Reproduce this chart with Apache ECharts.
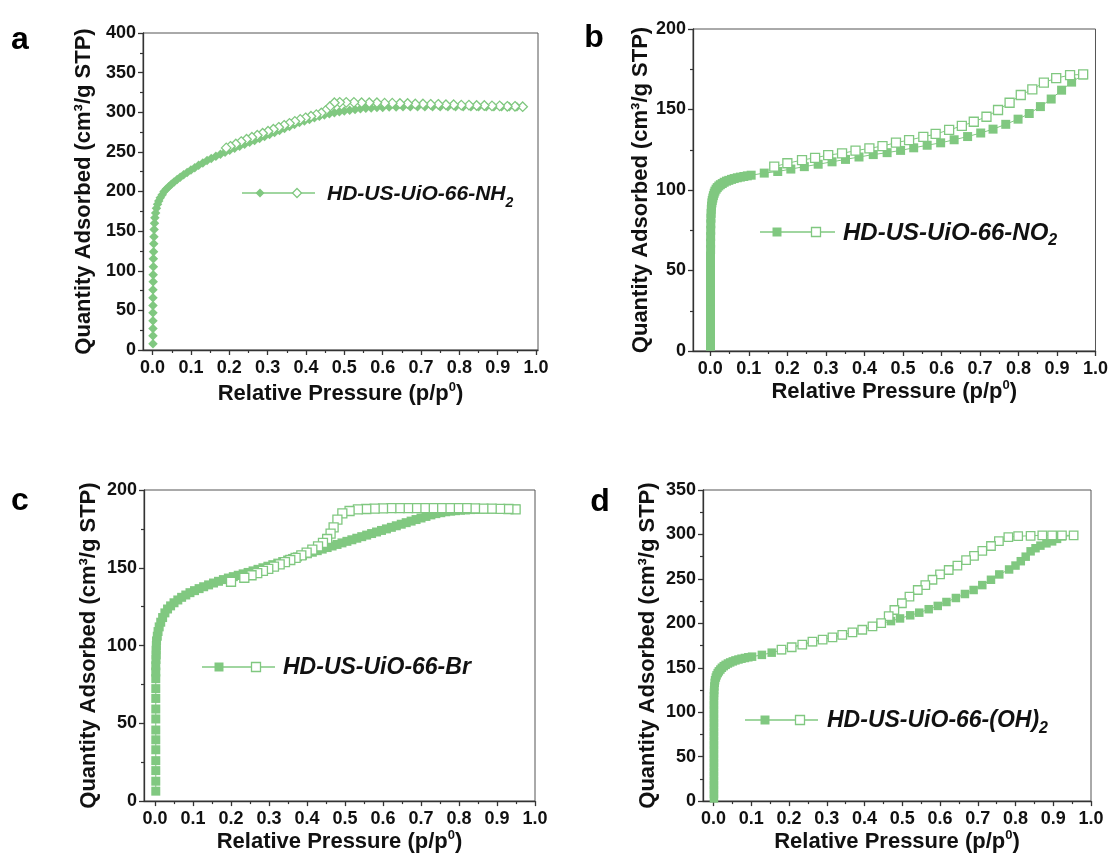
<!DOCTYPE html>
<html><head><meta charset="utf-8">
<script src="https://cdn.jsdelivr.net/npm/echarts@6/dist/echarts.min.js"></script>
<style>html,body{margin:0;padding:0;background:#fff}#c{width:1111px;height:854px}</style>
</head><body><div id="c"></div>
<script>
// ---------- data ----------
const xTicks = [0, 0.1, 0.2, 0.3, 0.4, 0.5, 0.6, 0.7, 0.8, 0.9, 1.0];
const xMinorTicks = [0.05, 0.15, 0.25, 0.35, 0.45, 0.55, 0.65, 0.75, 0.85, 0.95];
const yMax = [400, 200, 200, 350];
const yStep = [50, 50, 50, 50];
const panelLetters = ['a', 'b', 'c', 'd'];
const sampleNames = ['HD-US-UiO-66-NH', 'HD-US-UiO-66-NO', 'HD-US-UiO-66-Br', 'HD-US-UiO-66-(OH)'];
const sampleSubs = ['2', '2', '', '2'];

// (a) NH2 adsorption / desorption  [p/p0, cm3/g]
const nh2Ads = [[0.001,8],[0.001,18],[0.001,27],[0.001,37],[0.001,47],[0.001,56],[0.001,66],[0.001,76],[0.0015,86],[0.0015,95],[0.002,105],[0.002,115],[0.0025,124],[0.003,134],[0.0035,143],[0.004,152],[0.005,160],[0.006,167],[0.008,173],[0.01,179],[0.013,184],[0.016,188],[0.02,192],[0.025,196],[0.03,200],[0.036,203],[0.042,206],[0.049,209],[0.056,212],[0.064,215],[0.072,218],[0.081,221],[0.09,224],[0.1,227],[0.11,230],[0.12,233],[0.131,236],[0.142,239],[0.153,241.5],[0.165,244.5],[0.177,247],[0.189,249.5],[0.201,252],[0.214,254.5],[0.227,257],[0.24,259.5],[0.253,262],[0.266,264.5],[0.279,267],[0.292,269.5],[0.305,272],[0.318,274.5],[0.331,277],[0.344,279.5],[0.357,282],[0.37,284.5],[0.383,287],[0.396,289],[0.409,291],[0.422,293],[0.435,295],[0.448,296.5],[0.461,298],[0.474,299.5],[0.487,300.5],[0.5,301.5],[0.514,302.5],[0.528,303.5],[0.542,304.5],[0.556,305],[0.57,305.5],[0.585,306],[0.6,306],[0.617,306.5],[0.635,306.5],[0.653,307],[0.672,307],[0.691,307],[0.71,307],[0.73,307],[0.75,307],[0.77,307],[0.79,307],[0.81,307],[0.83,307],[0.85,307],[0.87,307],[0.89,307],[0.91,307],[0.93,307],[0.95,307],[0.965,307]];
const nh2Des = [[0.965,307],[0.945,307.5],[0.925,307.5],[0.905,308],[0.885,308],[0.865,308.5],[0.845,308.5],[0.825,309],[0.805,309],[0.785,309.5],[0.765,309.5],[0.745,310],[0.725,310],[0.705,310.5],[0.685,310.5],[0.665,311],[0.645,311],[0.625,311.5],[0.605,311.5],[0.585,312],[0.565,312],[0.545,312],[0.525,312.5],[0.505,312.5],[0.488,312.5],[0.474,312],[0.462,307],[0.451,302],[0.44,299],[0.427,297],[0.413,295],[0.399,293],[0.385,291],[0.371,288.5],[0.357,286],[0.343,283.5],[0.329,281],[0.315,278.5],[0.301,276],[0.287,273.5],[0.273,271],[0.259,268.5],[0.245,266],[0.231,263],[0.217,260],[0.203,257],[0.192,255]];

// (b) NO2
const no2Ads = [[0.0005,3],[0.0005,7],[0.0005,11],[0.0005,15],[0.0005,19],[0.0005,23],[0.0005,27],[0.0005,31],[0.0005,35],[0.0005,39],[0.0005,43],[0.0005,47],[0.0005,51],[0.0005,55],[0.0005,59],[0.0007,63],[0.0007,67],[0.0008,71],[0.001,75],[0.0012,79],[0.0015,82.5],[0.002,85.5],[0.0025,88],[0.003,90],[0.004,92],[0.005,93.5],[0.0065,95],[0.008,96.5],[0.01,98],[0.012,99.3],[0.015,100.5],[0.018,101.5],[0.022,102.5],[0.026,103.3],[0.031,104],[0.036,104.8],[0.042,105.5],[0.048,106],[0.055,106.6],[0.062,107.1],[0.07,107.6],[0.078,108],[0.087,108.4],[0.096,108.8],[0.106,109.2],[0.14,110.5],[0.175,111.5],[0.209,113],[0.244,114.5],[0.28,116],[0.316,117.5],[0.351,119],[0.386,120.5],[0.423,122],[0.459,123.2],[0.494,124.6],[0.528,126.2],[0.563,127.8],[0.598,129.3],[0.633,131.2],[0.668,133.2],[0.702,135.4],[0.734,137.8],[0.767,140.8],[0.799,144],[0.828,147.5],[0.857,151.8],[0.885,156.5],[0.912,162],[0.938,167],[0.968,171.5]];
const no2Des = [[0.968,171.8],[0.934,171.4],[0.898,169.5],[0.866,166.7],[0.836,162.5],[0.806,159],[0.777,154.2],[0.747,149.7],[0.717,145.5],[0.684,142.4],[0.653,139.8],[0.62,137.3],[0.585,134.8],[0.553,133],[0.516,131],[0.482,129.4],[0.447,127.3],[0.413,125.9],[0.377,124.4],[0.342,122.8],[0.306,121.7],[0.272,120],[0.238,118.6],[0.2,116.6],[0.166,114.5]];

// (c) Br
const brAds = [[0.002,6.4],[0.002,12.8],[0.002,19.6],[0.002,26],[0.002,33],[0.002,39.4],[0.002,45.7],[0.002,52.8],[0.002,59.2],[0.002,66],[0.002,72.3],[0.002,78.7],[0.002,83],[0.002,87],[0.0025,91],[0.003,94],[0.003,97],[0.0035,100],[0.004,103],[0.006,106],[0.008,109],[0.011,112],[0.015,115],[0.02,118],[0.026,121],[0.033,123.5],[0.041,125.5],[0.05,127.5],[0.06,129.3],[0.07,131],[0.081,132.5],[0.092,134],[0.104,135.3],[0.116,136.6],[0.128,137.8],[0.141,139],[0.154,140.2],[0.167,141.3],[0.18,142.4],[0.193,143.4],[0.206,144.3],[0.219,145.2],[0.232,146.1],[0.245,147],[0.258,148],[0.271,149],[0.284,150],[0.297,151],[0.31,152],[0.323,153],[0.336,154],[0.349,155],[0.362,156],[0.375,157],[0.388,158],[0.401,159],[0.414,160],[0.427,161],[0.44,162],[0.453,163],[0.466,164],[0.479,165],[0.492,166],[0.505,167],[0.518,168],[0.531,169],[0.544,170],[0.557,171],[0.57,172],[0.583,173],[0.596,174],[0.609,175],[0.622,176],[0.635,177],[0.648,178],[0.661,179],[0.674,180],[0.687,181],[0.7,182],[0.713,183],[0.726,184],[0.739,184.8],[0.752,185.4],[0.765,186],[0.778,186.4],[0.791,186.7],[0.804,187],[0.817,187.2],[0.83,187.4],[0.843,187.5],[0.856,187.6],[0.869,187.7],[0.882,187.7],[0.895,187.8],[0.908,187.8],[0.921,187.8],[0.934,187.8],[0.949,187.8]];
const brDes = [[0.949,187.6],[0.93,187.8],[0.908,187.9],[0.886,188],[0.864,188],[0.842,188.2],[0.82,188.3],[0.798,188.3],[0.776,188.3],[0.754,188.3],[0.732,188.3],[0.71,188.3],[0.688,188.3],[0.666,188.3],[0.644,188.3],[0.622,188.3],[0.6,188.2],[0.578,188],[0.556,187.8],[0.534,187.5],[0.512,186.5],[0.493,185],[0.48,181],[0.47,176],[0.462,172],[0.453,168.5],[0.442,166],[0.429,163.8],[0.414,161.7],[0.399,159.7],[0.385,158],[0.37,156.4],[0.356,155],[0.342,153.6],[0.328,152.2],[0.313,150.7],[0.298,149.3],[0.284,148],[0.269,146.5],[0.254,145.2],[0.235,143.6],[0.2,141]];

// (d) (OH)2
const ohAds = [[0.001,3],[0.001,8],[0.001,13],[0.001,18],[0.001,23],[0.001,28],[0.001,33],[0.001,38],[0.001,43],[0.001,48],[0.001,53],[0.001,58],[0.001,63],[0.001,68],[0.001,73],[0.001,78],[0.001,83],[0.001,88],[0.001,93],[0.001,98],[0.001,103],[0.001,108],[0.001,113],[0.0012,118],[0.0013,122],[0.0015,125],[0.002,129],[0.003,133],[0.004,136],[0.006,139],[0.008,141.5],[0.011,144],[0.014,146],[0.018,148],[0.022,150],[0.027,151.8],[0.032,153.3],[0.038,154.8],[0.044,156],[0.051,157.2],[0.058,158.3],[0.066,159.3],[0.074,160.2],[0.083,161],[0.092,161.8],[0.102,162.5],[0.128,164.5],[0.154,167],[0.18,170],[0.207,173],[0.235,176],[0.262,179],[0.289,181.6],[0.315,184.3],[0.341,187],[0.368,190],[0.394,193],[0.421,196.5],[0.444,200],[0.47,202.5],[0.494,205.5],[0.521,209],[0.545,212],[0.57,215.9],[0.594,219.6],[0.617,224],[0.642,228.5],[0.666,233],[0.689,237.5],[0.712,243],[0.735,249],[0.757,255],[0.783,260.6],[0.8,265],[0.814,269.9],[0.827,275],[0.84,281],[0.853,284.5],[0.866,287.4],[0.882,290],[0.897,292.2],[0.91,295],[0.923,297.8],[0.954,298.6]];
const ohDes = [[0.954,299],[0.923,299],[0.897,299],[0.871,299],[0.84,298.5],[0.807,298],[0.781,297],[0.756,292.5],[0.735,287],[0.712,281.5],[0.69,276],[0.669,271],[0.646,265],[0.623,260],[0.6,255],[0.58,249],[0.561,243],[0.541,237.5],[0.519,230],[0.499,222.6],[0.479,215],[0.464,208],[0.444,200.3],[0.421,196.6],[0.394,192.8],[0.368,189.9],[0.341,186.9],[0.315,184.3],[0.289,181.6],[0.262,179.4],[0.235,176],[0.207,173.1],[0.18,170.5]];

const adsSets = [nh2Ads, no2Ads, brAds, ohAds];
const desSets = [nh2Des, no2Des, brDes, ohDes];

// ---------- layout / style ----------
const G = '#80C880';
const F = '"Liberation Sans", Arial, sans-serif';
const grids = [
  {left: 143, top: 33, width: 395, height: 317, xmin: -0.025, xmax: 1.005, yGap: 48, xGap: 31},
  {left: 693, top: 29, width: 405, height: 322, xmin: -0.045, xmax: 1.0, yGap: 38, xGap: 28},
  {left: 144, top: 490, width: 391, height: 313, xmin: -0.029, xmax: 1.0, yGap: 44, xGap: 22},
  {left: 703, top: 490, width: 388, height: 313, xmin: -0.028, xmax: 1.0, yGap: 44, xGap: 22}
];
const symbols = ['diamond', 'rect', 'rect', 'rect'];
const symSize = [9.5, 9, 9, 8.5];
const legendPos = [
  {x1: 242, x2: 315, y: 193, m1: 260, m2: 297, tx: 327, fs: 21, mh: 4.5},
  {x1: 760, x2: 835, y: 232, m1: 777, m2: 816, tx: 843, fs: 24, mh: 4.5},
  {x1: 202, x2: 275, y: 667, m1: 219, m2: 256, tx: 283, fs: 23, mh: 4.5},
  {x1: 745, x2: 818, y: 720, m1: 765, m2: 800, tx: 827, fs: 23, mh: 4.5}
];
const letterPos = [[20, 40], [594, 38], [20, 501], [600, 502]];

const axisColor = '#333';
const option = {
  animation: false,
  grid: [], xAxis: [], yAxis: [], series: [], graphic: []
};

grids.forEach((g, i) => {
  option.grid.push({left: g.left, top: g.top, width: g.width, height: g.height,
    show: true, borderColor: '#555', borderWidth: 1, containLabel: false});
  option.xAxis.push({
    gridIndex: i, type: 'value', min: g.xmin, max: g.xmax,
    axisLine: {onZero: false, lineStyle: {color: axisColor, width: 1.3}},
    axisTick: {show: true, customValues: xTicks, length: 5, lineStyle: {color: axisColor, width: 1.3}},
    axisLabel: {customValues: xTicks, formatter: v => v.toFixed(1), fontFamily: F, fontWeight: 'bold', fontSize: 18, color: '#111', margin: 9},
    splitLine: {show: false},
    name: '{t|Relative Pressure (p/p}{s|0}{t|)}',
    nameLocation: 'middle', nameGap: g.xGap,
    nameTextStyle: {rich: {
      t: {fontFamily: F, fontWeight: 'bold', fontSize: 22, lineHeight: 26, color: '#111'},
      s: {fontFamily: F, fontWeight: 'bold', fontSize: 13, lineHeight: 13, verticalAlign: 'top', color: '#111'}
    }}
  });
  option.xAxis.push({
    gridIndex: i, type: 'value', min: g.xmin, max: g.xmax, position: 'bottom',
    axisLine: {show: false, onZero: false},
    axisTick: {show: true, customValues: xMinorTicks, length: 3, lineStyle: {color: axisColor, width: 1.2}},
    axisLabel: {show: false}, splitLine: {show: false}
  });
  option.yAxis.push({
    gridIndex: i, type: 'value', min: 0, max: yMax[i], interval: yStep[i],
    axisLine: {show: true, onZero: false, lineStyle: {color: axisColor, width: 1.3}},
    axisTick: {show: true, length: 5, lineStyle: {color: axisColor, width: 1.3}},
    minorTick: {show: true, splitNumber: 2, length: 3, lineStyle: {color: axisColor, width: 1.2}},
    axisLabel: {fontFamily: F, fontWeight: 'bold', fontSize: 18, color: '#111', margin: 7},
    splitLine: {show: false},
    name: 'Quantity Adsorbed (cm³/g STP)',
    nameLocation: 'middle', nameGap: g.yGap,
    nameTextStyle: {fontFamily: F, fontWeight: 'bold', fontSize: 22, color: '#111'}
  });
  option.series.push({
    type: 'line', xAxisIndex: 2 * i, yAxisIndex: i, data: adsSets[i],
    symbol: symbols[i], symbolSize: symSize[i], showSymbol: true,
    itemStyle: {color: G}, lineStyle: {color: G, width: 1}, emphasis: {disabled: true}, z: 2
  });
  option.series.push({
    type: 'line', xAxisIndex: 2 * i, yAxisIndex: i, data: desSets[i],
    symbol: symbols[i], symbolSize: symSize[i], showSymbol: true,
    itemStyle: {color: '#fff', borderColor: G, borderWidth: 1.3}, lineStyle: {color: G, width: 1},
    emphasis: {disabled: true}, z: 3
  });

  // legend drawing
  const L = legendPos[i];
  option.graphic.push({type: 'line', shape: {x1: L.x1, y1: L.y, x2: L.x2, y2: L.y}, style: {stroke: G, lineWidth: 1.3}});
  const h = L.mh;
  if (symbols[i] === 'diamond') {
    option.graphic.push({type: 'polygon', shape: {points: [[L.m1, L.y - h], [L.m1 + h, L.y], [L.m1, L.y + h], [L.m1 - h, L.y]]}, style: {fill: G}});
    option.graphic.push({type: 'polygon', shape: {points: [[L.m2, L.y - h], [L.m2 + h, L.y], [L.m2, L.y + h], [L.m2 - h, L.y]]}, style: {fill: '#fff', stroke: G, lineWidth: 1.3}});
  } else {
    option.graphic.push({type: 'rect', shape: {x: L.m1 - h, y: L.y - h, width: 2 * h, height: 2 * h}, style: {fill: G}});
    option.graphic.push({type: 'rect', shape: {x: L.m2 - h, y: L.y - h, width: 2 * h, height: 2 * h}, style: {fill: '#fff', stroke: G, lineWidth: 1.3}});
  }
  const txt = sampleSubs[i] ? '{t|' + sampleNames[i] + '}{s|' + sampleSubs[i] + '}' : '{t|' + sampleNames[i] + '}';
  option.graphic.push({type: 'text', x: L.tx, y: L.y + 1, style: {
    text: txt, align: 'left', verticalAlign: 'middle',
    rich: {
      t: {fontFamily: F, fontWeight: 'bold', fontStyle: 'italic', fontSize: L.fs, lineHeight: 32, fill: '#111'},
      s: {fontFamily: F, fontWeight: 'bold', fontStyle: 'italic', fontSize: Math.round(L.fs * 0.68), lineHeight: 14, verticalAlign: 'bottom', fill: '#111'}
    }
  }});
  option.graphic.push({type: 'text', x: letterPos[i][0], y: letterPos[i][1], style: {
    text: panelLetters[i], font: 'bold 32px ' + F, fill: '#000', align: 'center', verticalAlign: 'middle'
  }});
});

const chart = echarts.init(document.getElementById('c'), null, {renderer: 'canvas'});
chart.setOption(option);
</script>
</body></html>
